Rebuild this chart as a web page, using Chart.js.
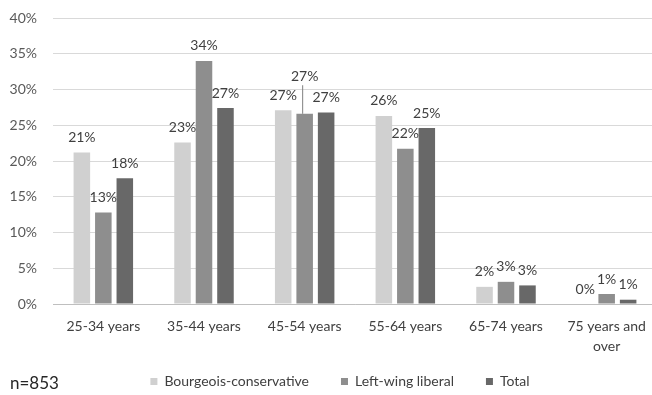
<!DOCTYPE html>
<html>
<head>
<meta charset="utf-8">
<script src="https://cdn.jsdelivr.net/npm/chart.js@4.4.1/dist/chart.umd.min.js"></script>
<style>
  html, body { margin: 0; padding: 0; background: #fff; overflow: hidden; }
  #wrap { position: relative; width: 680px; height: 395px; }
</style>
</head>
<body>
<div id="wrap"><canvas id="chart" width="680" height="395"></canvas></div>
<script>
// data (share of respondents, %)
const ageGroups = ['25-34 years', '35-44 years', '45-54 years', '55-64 years', '65-74 years', ['75 years and', 'over']];
const conservative = [21.2, 22.6, 27.1, 26.3, 2.4, 0.0];
const leftLiberal = [12.8, 34.0, 26.6, 21.7, 3.1, 1.4];
const total = [17.6, 27.4, 26.8, 24.6, 2.6, 0.6];
const yTicks = [0, 5, 10, 15, 20, 25, 30, 35, 40];
const sampleNote = 'n=853';

const FONT = 'Lato, "Open Sans", sans-serif';

// labels above each bar; when one collides with a label already placed
// it is lifted and gets a small leader line (like the Excel original)
const barLabels = {
  id: 'barLabels',
  afterDatasetsDraw(chart) {
    const ctx = chart.ctx;
    ctx.save();
    ctx.font = '14px ' + FONT;
    ctx.fillStyle = '#404040';
    ctx.textAlign = 'center';
    ctx.textBaseline = 'middle';
    const n = chart.data.labels.length;
    for (let i = 0; i < n; i++) {
      const placed = [];
      chart.data.datasets.forEach((ds, d) => {
        const bar = chart.getDatasetMeta(d).data[i];
        const txt = Math.round(ds.data[i]) + '%';
        const w = ctx.measureText(txt).width;
        let y = bar.y - 15;
        let lifted = false;
        for (const p of placed) {
          if (Math.abs(p.x - bar.x) < (p.w + w) / 2 && Math.abs(p.y - y) < 14) {
            y = p.y - 19;
            lifted = true;
          }
        }
        if (lifted) {
          ctx.strokeStyle = '#808080';
          ctx.lineWidth = 1;
          ctx.beginPath();
          ctx.moveTo(bar.x - 2, y + 9);
          ctx.lineTo(bar.x - 2, bar.y);
          ctx.stroke();
        }
        ctx.fillText(txt, bar.x, y);
        placed.push({ x: bar.x, y: y, w: w });
      });
    }
    ctx.restore();
  }
};

// nudge the legend a little right/up so it sits where the original has it
const legendNudge = {
  id: 'legendNudge',
  afterLayout(chart) {
    const lg = chart.legend;
    lg.left += 7; lg.right += 7;
    lg.top -= 12.5;
  }
};

const noteText = {
  id: 'noteText',
  afterDraw(chart) {
    const ctx = chart.ctx;
    ctx.save();
    ctx.font = '17px ' + FONT;
    ctx.fillStyle = '#262626';
    ctx.textAlign = 'left';
    ctx.textBaseline = 'middle';
    ctx.fillText(sampleNote, 10, 384);
    ctx.restore();
  }
};

new Chart(document.getElementById('chart'), {
  type: 'bar',
  data: {
    labels: ageGroups,
    datasets: [
      { label: 'Bourgeois-conservative', data: conservative, backgroundColor: '#d0d0d0' },
      { label: 'Left-wing liberal', data: leftLiberal, backgroundColor: '#8e8e8e' },
      { label: 'Total', data: total, backgroundColor: '#686868' }
    ]
  },
  options: {
    responsive: false,
    animation: false,
    categoryPercentage: 0.64,
    barPercentage: 0.77,
    layout: { padding: { left: 9, right: 23, top: 18, bottom: 0 } },
    scales: {
      y: {
        min: 0,
        max: yTicks[yTicks.length - 1],
        afterBuildTicks(axis) { axis.ticks = yTicks.map(v => ({ value: v })); },
        afterFit(axis) {
          axis.width = 44;
          axis.paddingTop = 0;
          axis.paddingBottom = 0;
        },
        ticks: {
          padding: 16,
          color: '#595959',
          font: { family: FONT, size: 14 },
          callback: v => v + '%'
        },
        grid: { color: '#d9d9d9', drawTicks: false },
        border: { display: false }
      },
      x: {
        afterFit(axis) {
          axis.height = 51;
          axis.paddingLeft = 0;
          axis.paddingRight = 0;
        },
        ticks: {
          padding: 5,
          maxRotation: 0,
          autoSkip: false,
          color: '#404040',
          font: { family: FONT, size: 14, lineHeight: 1.4 }
        },
        grid: { display: false },
        border: { color: '#bfbfbf' }
      }
    },
    plugins: {
      tooltip: { enabled: false },
      legend: {
        position: 'bottom',
        maxHeight: 40,
        labels: {
          boxWidth: 7,
          boxHeight: 7,
          padding: 32,
          color: '#404040',
          font: { family: FONT, size: 14 }
        }
      }
    }
  },
  plugins: [barLabels, legendNudge, noteText]
});
</script>
</body>
</html>
